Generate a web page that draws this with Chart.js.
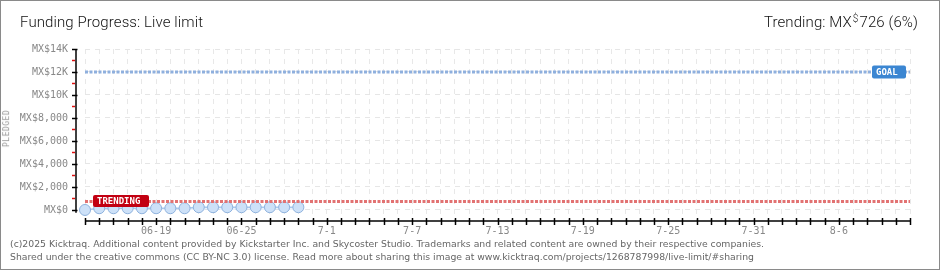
<!DOCTYPE html>
<html>
<head>
<meta charset="utf-8">
<script src="https://cdn.jsdelivr.net/npm/chart.js@4.4.1/dist/chart.umd.min.js"></script>
<style>
  body { margin: 0; background: #fff; }
  #wrap { position: relative; width: 940px; height: 270px; overflow: hidden; }
  #chart { position: absolute; left: 0; top: 0; }
  #frame { position: absolute; left: 0; top: 0; width: 940px; height: 270px; box-sizing: border-box; border: 1px solid #8a8a8a; pointer-events: none; }
  #title { position: absolute; left: 20px; top: 13px; font: 300 15px Roboto, sans-serif; color: #111; letter-spacing: 0.1px; }
  #trend { position: absolute; right: 22px; top: 13px; font: 300 15px Roboto, sans-serif; color: #111; letter-spacing: 0.1px; }
  #trend sup { font-size: 10px; vertical-align: 5px; margin: 0 1px; }
  #ylabel { position: absolute; left: -12px; top: 124px; transform: rotate(-90deg); font: 8px "DejaVu Sans Mono", monospace; color: #999; letter-spacing: 0.5px; }
  #foot { position: absolute; left: 10px; top: 237px; font: 9.3px "DejaVu Sans", sans-serif; color: #666; line-height: 13px; }
</style>
</head>
<body>
<div id="wrap">
  <canvas id="chart" width="940" height="270"></canvas>
  <div id="title">Funding Progress: Live limit</div>
  <div id="trend">Trending: MX<sup>$</sup>726 (6%)</div>
  <div id="ylabel">PLEDGED</div>
  <div id="foot">(c)2025 Kicktraq. Additional content provided by Kickstarter Inc. and Skycoster Studio. Trademarks and related content are owned by their respective companies.<br>Shared under the creative commons (CC BY-NC 3.0) license. Read more about sharing this image at www.kicktraq.com/projects/1268787998/live-limit/#sharing</div>
  <div id="frame"></div>
</div>
<script>
// days on the x axis
const DAYS = [
  '06-14','06-15','06-16','06-17','06-18','06-19','06-20','06-21','06-22','06-23','06-24','06-25','06-26','06-27','06-28','06-29','06-30',
  '7-1','7-2','7-3','7-4','7-5','7-6','7-7','7-8','7-9','7-10','7-11','7-12','7-13','7-14','7-15','7-16','7-17','7-18','7-19','7-20',
  '7-21','7-22','7-23','7-24','7-25','7-26','7-27','7-28','7-29','7-30','7-31',
  '8-1','8-2','8-3','8-4','8-5','8-6','8-7','8-8','8-9','8-10','8-11'
];
// pledged amount per day (MX$)
const PLEDGED = [0, 150, 150, 150, 150, 150, 150, 150, 240, 240, 240, 240, 240, 240, 240, 240];
const GOAL = 12000;
const TRENDING = 726;

const X_TICKS = ['06-19', '06-25', '7-1', '7-7', '7-13', '7-19', '7-25', '7-31', '8-6'];
const Y_TICKS = ['MX$0', 'MX$2,000', 'MX$4,000', 'MX$6,000', 'MX$8,000', 'MX$10K', 'MX$12K', 'MX$14K'];

const FIRST = DAYS[0], LAST = DAYS[DAYS.length - 1];

// axis lines, tick marks and the GOAL / TRENDING tags
const decor = {
    id: 'decor',
    afterDraw(chart) {
        const { ctx, chartArea, scales: { x, y } } = chart;
        const ax = chartArea.left - 9;
        ctx.save();
        ctx.lineWidth = 1.5;
        ctx.strokeStyle = '#000';
        ctx.beginPath();
        ctx.moveTo(ax, chartArea.top);
        ctx.lineTo(ax, y.getPixelForValue(-250));
        ctx.stroke();
        for (let v = 0; v <= 14000; v += 1000) {
            const py = Math.round(y.getPixelForValue(v)) + 0.5;
            ctx.strokeStyle = v % 2000 ? '#e01010' : '#000';
            ctx.beginPath();
            ctx.moveTo(ax - 4, py);
            ctx.lineTo(v % 2000 ? ax - 1 : ax + 1.5, py);
            ctx.stroke();
        }
        const by = chartArea.bottom;
        ctx.strokeStyle = '#000';
        ctx.beginPath();
        ctx.moveTo(chartArea.left, by);
        ctx.lineTo(chartArea.right, by);
        ctx.stroke();
        DAYS.forEach((d, i) => {
            const px = Math.round(x.getPixelForValue(i)) + 0.5;
            ctx.beginPath();
            ctx.moveTo(px, by - 3);
            ctx.lineTo(px, by + 4);
            ctx.stroke();
        });

        ctx.font = 'bold 9px "DejaVu Sans Mono", monospace';
        ctx.textBaseline = 'middle';
        // trending tag
        const ty = y.getPixelForValue(TRENDING);
        const tx = x.getPixelForValue(0) + 8;
        ctx.fillStyle = '#c20012';
        ctx.beginPath();
        ctx.roundRect(tx, ty - 6.5, 56, 12, 2);
        ctx.fill();
        ctx.fillStyle = '#fff';
        ctx.fillText('TRENDING', tx + 4, ty);
        // goal tag
        const gy = y.getPixelForValue(GOAL);
        const gx = chartArea.right - 38;
        ctx.fillStyle = '#3b86d2';
        ctx.beginPath();
        ctx.roundRect(gx, gy - 6.5, 34, 13, 2);
        ctx.fill();
        ctx.fillStyle = '#fff';
        ctx.fillText('GOAL', gx + 4, gy + 0.5);
        ctx.restore();
    }
};

new Chart(document.getElementById('chart'), {
    type: 'line',
    data: {
        labels: DAYS,
        datasets: [
            {
                label: 'Goal',
                data: [{ x: FIRST, y: GOAL }, { x: LAST, y: GOAL }],
                borderColor: '#8fb0de',
                borderWidth: 3,
                borderDash: [3, 1.5],
                pointRadius: 0,
                fill: false
            },
            {
                label: 'Trending',
                data: [{ x: FIRST, y: TRENDING }, { x: LAST, y: TRENDING }],
                borderColor: '#e27272',
                borderWidth: 3,
                borderDash: [3, 1.5],
                pointRadius: 0,
                fill: false
            },
            {
                label: 'Pledged',
                data: PLEDGED,
                borderColor: '#a9c9ee',
                borderWidth: 1.5,
                backgroundColor: 'rgba(200, 220, 245, 0.35)',
                fill: 'origin',
                pointRadius: 5.5,
                pointBackgroundColor: '#cde1f8',
                pointBorderColor: '#8fb2dd',
                pointBorderWidth: 1
            }
        ]
    },
    options: {
        responsive: false,
        animation: false,
        layout: { padding: { left: 0, top: 49, right: 30, bottom: 0 } },
        plugins: { legend: { display: false }, tooltip: { enabled: false } },
        scales: {
            x: {
                type: 'category',
                offset: false,
                afterFit: s => { s.height = 49; },
                border: { display: false, dash: [5, 5] },
                grid: { color: '#e8e8e8', drawTicks: false },
                ticks: {
                    autoSkip: false,
                    maxRotation: 0,
                    padding: 4,
                    color: '#888',
                    font: { family: '"DejaVu Sans Mono", monospace', size: 10 },
                    callback: (v, i) => X_TICKS.includes(DAYS[i]) ? DAYS[i] : ''
                }
            },
            y: {
                min: -960,
                max: 14000,
                afterFit: s => { s.width = 85; },
                afterBuildTicks: s => {
                    const t = [];
                    for (let v = 0; v <= 14000; v += 1000) t.push({ value: v });
                    s.ticks = t;
                },
                border: { display: false, dash: [5, 5] },
                grid: {
                    drawTicks: false,
                    color: c => (c.tick && c.tick.value % 2000 === 0) ? '#e6e6e6' : 'rgba(0,0,0,0)'
                },
                ticks: {
                    padding: 17,
                    color: '#888',
                    font: { family: '"DejaVu Sans Mono", monospace', size: 10 },
                    callback: v => v % 2000 ? '' : Y_TICKS[v / 2000]
                }
            }
        }
    },
    plugins: [decor]
});
</script>
</body>
</html>
